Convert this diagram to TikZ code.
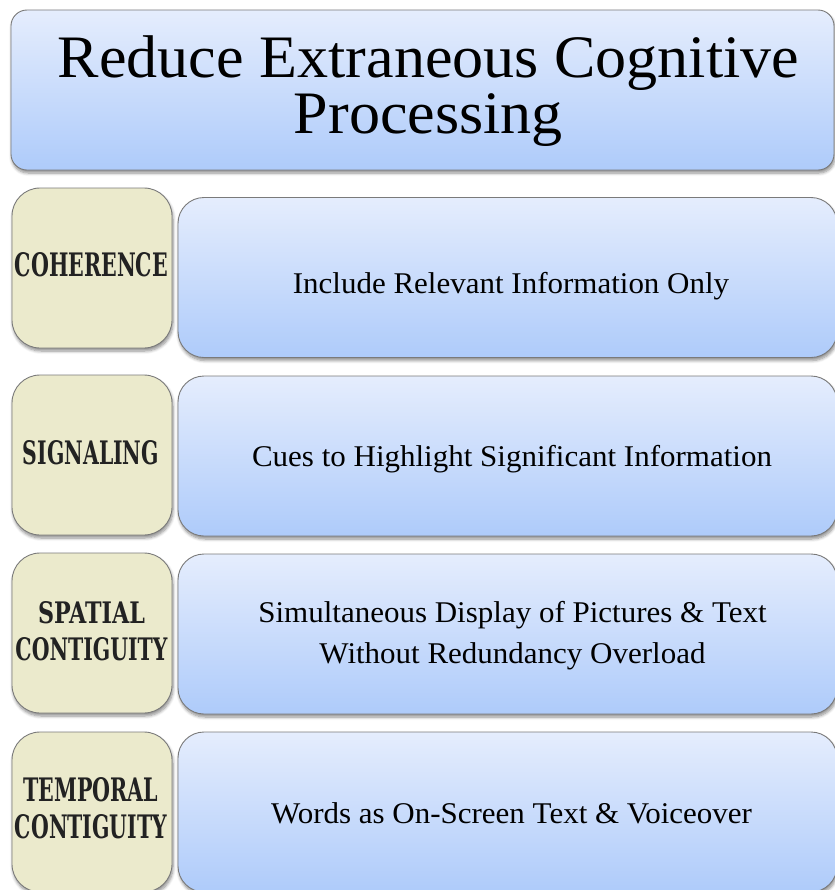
\documentclass[tikz,border=0pt]{standalone}
\usepackage{fontspec}
\usepackage{graphicx}
\setmainfont{Liberation Serif}[FakeStretch=1.03]
\newfontfamily\stencilfont{DejaVu Serif}
\usetikzlibrary{shadows.blur}
\definecolor{boxtop}{HTML}{E5EDFD}
\definecolor{boxbot}{HTML}{AECBFA}
\definecolor{beige}{HTML}{EBEACC}
\definecolor{edgegray}{HTML}{7A7A7A}
\definecolor{stencilgray}{HTML}{222222}
\newcommand\stencilword[3]{\resizebox{#1bp}{#2bp}{\stencilfont\bfseries #3}}
\tikzset{
  shadowed/.style={blur shadow={shadow xshift=1bp, shadow yshift=-3bp, shadow blur radius=3bp, shadow blur steps=6, shadow opacity=45}},
  titlebox/.style={draw=edgegray, line width=0.9bp, rounded corners=16bp, top color=boxtop, bottom color=boxbot, shadowed, minimum width=823bp, minimum height=160bp, inner sep=0pt},
  descbox/.style={draw=edgegray, line width=0.9bp, rounded corners=26bp, top color=boxtop, bottom color=boxbot, shadowed, minimum width=659bp, minimum height=160bp, inner sep=0pt},
  labelbox/.style={draw=edgegray, line width=0.9bp, rounded corners=28bp, fill=beige, shadowed, minimum width=160bp, minimum height=160bp, inner sep=0pt},
  titletext/.style={anchor=base, inner sep=0pt, align=center, font=\fontsize{60.5}{56}\selectfont},
  desctext/.style={anchor=base, inner sep=0pt, font=\fontsize{30.2}{30.2}\selectfont},
  desctwo/.style={anchor=base, inner sep=0pt, align=center, font=\fontsize{30.2}{41}\selectfont},
  stenciltext/.style={anchor=base, inner sep=0pt, text=stencilgray},
  stenciltwo/.style={anchor=base, inner sep=0pt, align=center, text=stencilgray, font=\fontsize{24}{37}\selectfont},
}
\begin{document}
\begin{tikzpicture}[x=1bp, y=-1bp]
  \useasboundingbox (0,0) rectangle (835,890);
  \clip (0,0) rectangle (835,890);
  % title
  \node[titlebox] (title) at (422.5,90) {};
  \node[titletext] (t) at (428.5,133) {Reduce Extraneous Cognitive\\Processing};
  % row 1
  \node[labelbox] (lab1) at (92,268) {};
  \node[descbox] (desc1) at (507.5,277.5) {};
  \node[stenciltext] (s1) at (91.5,276) {\stencilword{153}{24}{COHERENCE}};
  \node[desctext] (d1) at (511,293) {Include Relevant Information Only};
  % row 2
  \node[labelbox] (lab2) at (92,455) {};
  \node[descbox] (desc2) at (507.5,456) {};
  \node[stenciltext] (s2) at (91,464) {\stencilword{136}{24}{SIGNALING}};
  \node[desctext] (d2) at (512,466) {Cues to Highlight Significant Information};
  % row 3
  \node[labelbox] (lab3) at (92,633) {};
  \node[descbox] (desc3) at (507.5,634) {};
  \node[stenciltwo] (s3) at (91.5,660) {\stencilword{107}{22}{SPATIAL}\\\stencilword{152}{23}{CONTIGUITY}};
  \node[desctwo] (d3) at (512.5,663) {Simultaneous Display of Pictures \& Text\\Without Redundancy Overload};
  % row 4
  \node[labelbox] (lab4) at (92,812) {};
  \node[descbox] (desc4) at (507.5,812) {};
  \node[stenciltwo] (s4) at (91,838) {\stencilword{135}{24}{TEMPORAL}\\\stencilword{152}{24}{CONTIGUITY}};
  \node[desctext] (d4) at (511.5,823) {Words as On-Screen Text \& Voiceover};
\end{tikzpicture}
\end{document}
